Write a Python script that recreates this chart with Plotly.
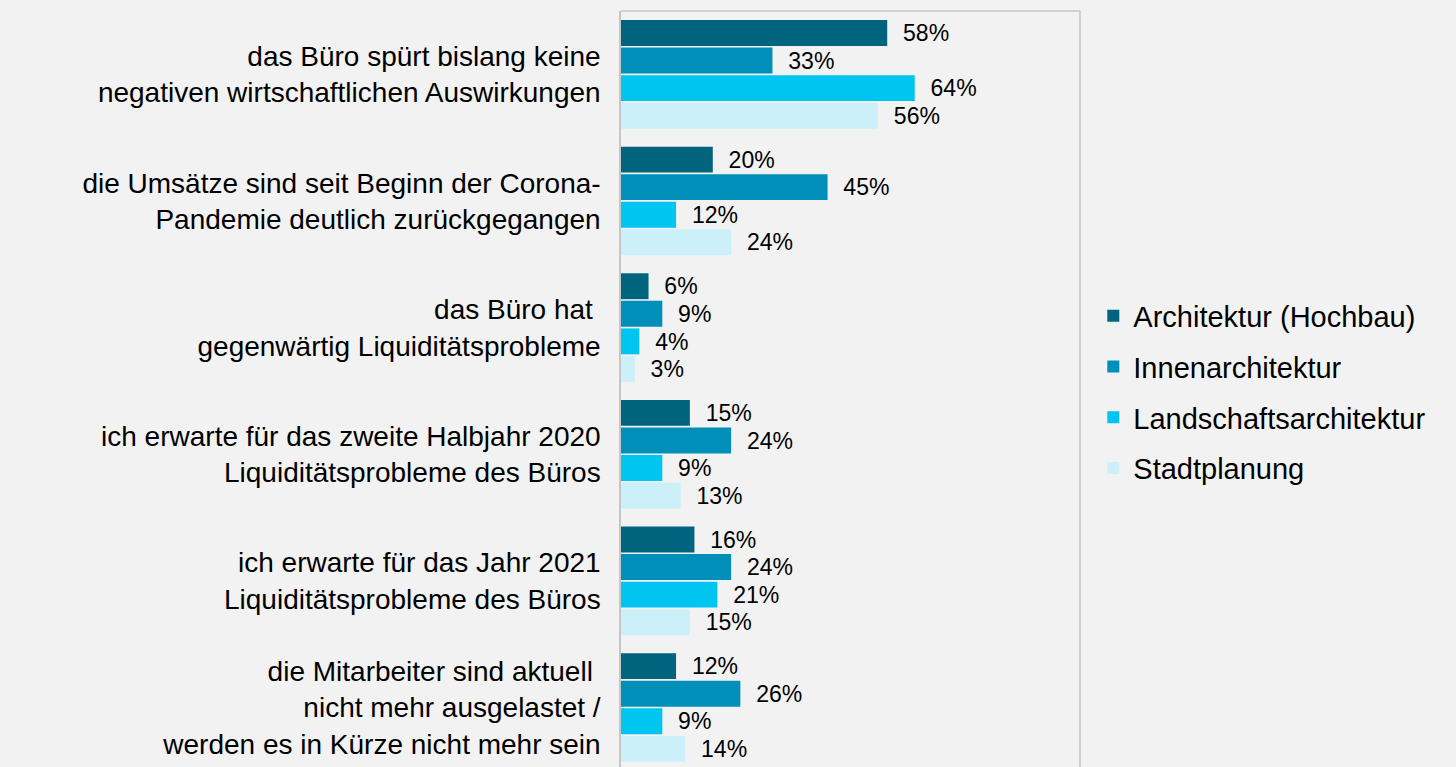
import plotly.graph_objects as go

categories = [
    "das Büro spürt bislang keine<br>negativen wirtschaftlichen Auswirkungen",
    "die Umsätze sind seit Beginn der Corona-<br>Pandemie deutlich zurückgegangen",
    "das Büro hat <br>gegenwärtig Liquiditätsprobleme",
    "ich erwarte für das zweite Halbjahr 2020<br>Liquiditätsprobleme des Büros",
    "ich erwarte für das Jahr 2021<br>Liquiditätsprobleme des Büros",
    "die Mitarbeiter sind aktuell <br>nicht mehr ausgelastet /<br>werden es in Kürze nicht mehr sein",
]
series_names = ["Architektur (Hochbau)", "Innenarchitektur", "Landschaftsarchitektur", "Stadtplanung"]
architektur = [58, 20, 6, 15, 16, 12]
innenarchitektur = [33, 45, 9, 24, 24, 26]
landschaft = [64, 12, 4, 9, 21, 9]
stadtplanung = [56, 24, 3, 13, 15, 14]
series_values = [architektur, innenarchitektur, landschaft, stadtplanung]
colors = ["#00647F", "#008FB9", "#00C5F0", "#CCF0FA"]

FONT = "Liberation Sans, Arial, sans-serif"

fig = go.Figure()
for name, vals, col in zip(series_names, series_values, colors):
    fig.add_trace(go.Bar(
        y=categories, x=vals, name=name, orientation="h",
        marker=dict(color=col, line=dict(width=0)),
        text=[f"\u00a0\u00a0{v}%" for v in vals],
        textposition="outside", cliponaxis=False,
        textfont=dict(family=FONT, size=24, color="#000000"),
        legendgroup=name, hoverinfo="skip",
    ))

fig.update_layout(
    width=1456, height=767,
    paper_bgcolor="#F2F2F2", plot_bgcolor="#F2F2F2",
    margin=dict(l=621, r=376, t=11, b=0, pad=0),
    barmode="group", bargap=0.129, bargroupgap=0.06,
    font=dict(family=FONT, color="#000000"),
    showlegend=True,
    legend=dict(
        x=1.029, xanchor="left", y=0.496, yanchor="middle",
        font=dict(family=FONT, size=29, color="#000000"),
        traceorder="grouped", tracegroupgap=10,
        bgcolor="rgba(0,0,0,0)",
    ),
    xaxis=dict(range=[0, 100], showgrid=False, zeroline=False, showticklabels=False,
               ticks="", showline=False, fixedrange=True),
    yaxis=dict(type="category", range=[5.47, -0.5], showgrid=False, zeroline=False,
               showline=True, linecolor="#C6C6C6", linewidth=1.5,
               ticks="outside", ticklen=13, tickcolor="rgba(0,0,0,0)",
               tickfont=dict(family=FONT, size=28, color="#000000")),
    shapes=[
        dict(type="line", xref="paper", yref="paper", x0=0, x1=1, y0=1, y1=1,
             line=dict(color="#C6C6C6", width=1.5)),
        dict(type="line", xref="paper", yref="paper", x0=1, x1=1, y0=0, y1=1,
             line=dict(color="#C6C6C6", width=1.5)),
    ],
)

fig.write_html(
    "out.html",
    config={"displayModeBar": False},
    post_script="document.body.style.margin='0';document.body.style.background='#F2F2F2';",
)
